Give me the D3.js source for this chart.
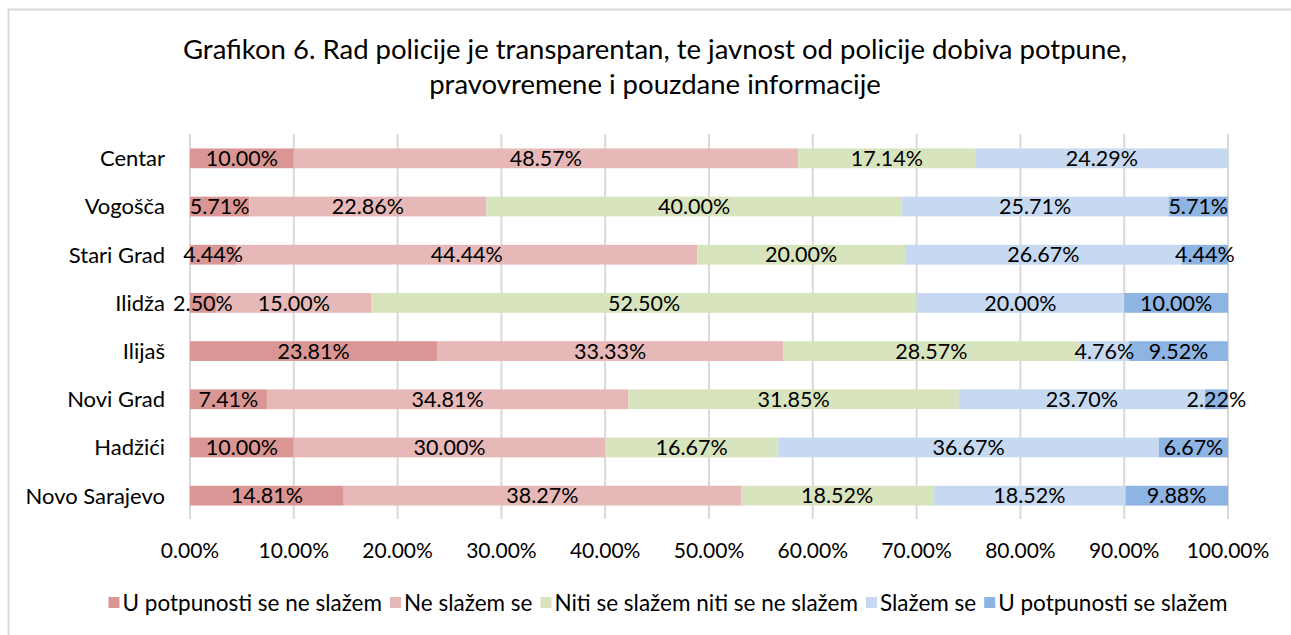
<!DOCTYPE html>
<html>
<head>
<meta charset="utf-8">
<script src="https://cdn.jsdelivr.net/npm/d3@7"></script>
<style>
  body { margin: 0; background: #fff; }
  text { font-family: Lato, "Noto Sans", sans-serif; fill: #000; }
</style>
</head>
<body>
<div id="chart"></div>
<script>
const categories = ['Centar', 'Vogošča', 'Stari Grad', 'Ilidža', 'Ilijaš', 'Novi Grad', 'Hadžići', 'Novo Sarajevo'];
const seriesNames = ['U potpunosti se ne slažem', 'Ne slažem se', 'Niti se slažem niti se ne slažem', 'Slažem se', 'U potpunosti se slažem'];
const seriesColors = ['#da9694', '#e6b9b8', '#d7e4bd', '#c6d9f1', '#8eb4e3'];
const stronglyDisagree = [10.00, 5.71, 4.44, 2.50, 23.81, 7.41, 10.00, 14.81];
const disagree = [48.57, 22.86, 44.44, 15.00, 33.33, 34.81, 30.00, 38.27];
const neutral = [17.14, 40.00, 20.00, 52.50, 28.57, 31.85, 16.67, 18.52];
const agree = [24.29, 25.71, 26.67, 20.00, 4.76, 23.70, 36.67, 18.52];
const stronglyAgree = [0, 5.71, 4.44, 10.00, 9.52, 2.22, 6.67, 9.88];
const xTicks = [0, 10, 20, 30, 40, 50, 60, 70, 80, 90, 100];

const W = 1291, H = 635;
const svg = d3.select('#chart').append('svg').attr('width', W).attr('height', H);

// outer frame
svg.append('rect')
   .attr('x', 8.5).attr('y', 9.5)
   .attr('width', W + 20).attr('height', H + 20)
   .attr('fill', 'none').attr('stroke', '#d9d9d9').attr('stroke-width', 2);

// title
const title = svg.append('text')
   .attr('text-anchor', 'middle')
   .attr('font-size', 27.5);
title.append('tspan').attr('x', 655).attr('y', 59)
   .text('Grafikon 6. Rad policije je transparentan, te javnost od policije dobiva potpune,');
title.append('tspan').attr('x', 655).attr('y', 94)
   .text('pravovremene i pouzdane informacije');

const x = d3.scaleLinear().domain([0, 100]).range([190, 1228]);
const y = d3.scaleBand().domain(categories).range([134, 520]).paddingInner(0.59).paddingOuter(0.3);

// gridlines
svg.append('g').selectAll('line')
   .data(xTicks)
   .join('line')
   .attr('x1', d => x(d)).attr('x2', d => x(d))
   .attr('y1', 134).attr('y2', 519)
   .attr('stroke', '#d9d9d9').attr('stroke-width', 2);

// stack data
const table = categories.map((c, i) => ({
  cat: c,
  s0: stronglyDisagree[i], s1: disagree[i], s2: neutral[i], s3: agree[i], s4: stronglyAgree[i]
}));
const stack = d3.stack().keys(['s0', 's1', 's2', 's3', 's4'])(table);

const groups = svg.append('g').selectAll('g')
   .data(stack)
   .join('g')
   .attr('fill', (d, i) => seriesColors[i]);

groups.selectAll('rect')
   .data(d => d.filter(p => p[1] - p[0] > 0))
   .join('rect')
   .attr('x', d => x(d[0]))
   .attr('y', d => y(d.data.cat))
   .attr('width', d => x(d[1]) - x(d[0]))
   .attr('height', y.bandwidth());

// data labels
const labels = svg.append('g');
stack.forEach(s => {
  s.filter(p => p[1] - p[0] > 0).forEach(p => {
    labels.append('text')
      .attr('x', (x(p[0]) + x(p[1])) / 2)
      .attr('y', y(p.data.cat) + y.bandwidth() / 2)
      .attr('dy', '0.36em')
      .attr('text-anchor', 'middle')
      .attr('font-size', 21.5)
      .text((p[1] - p[0]).toFixed(2) + '%');
  });
});

// category axis
svg.append('g').selectAll('text')
   .data(categories)
   .join('text')
   .attr('x', 165)
   .attr('y', d => y(d) + y.bandwidth() / 2)
   .attr('dy', '0.36em')
   .attr('text-anchor', 'end')
   .attr('font-size', 22)
   .text(d => d);

// value axis
svg.append('g').selectAll('text')
   .data(xTicks)
   .join('text')
   .attr('x', d => x(d))
   .attr('y', 550)
   .attr('dy', '0.36em')
   .attr('text-anchor', 'middle')
   .attr('font-size', 21)
   .text(d => d.toFixed(2) + '%');

// legend
const legend = svg.append('g');
let lx = 0;
seriesNames.forEach((n, i) => {
  const item = legend.append('g').attr('transform', `translate(${lx},0)`);
  item.append('rect').attr('x', 0).attr('y', -6).attr('width', 11).attr('height', 11).attr('fill', seriesColors[i]);
  const t = item.append('text').attr('x', 14).attr('dy', '0.36em').attr('font-size', 22.5).text(n);
  lx += 14 + t.node().getComputedTextLength() + 8;
});
legend.attr('transform', `translate(${668 - (lx - 8) / 2},603)`);
</script>
</body>
</html>
